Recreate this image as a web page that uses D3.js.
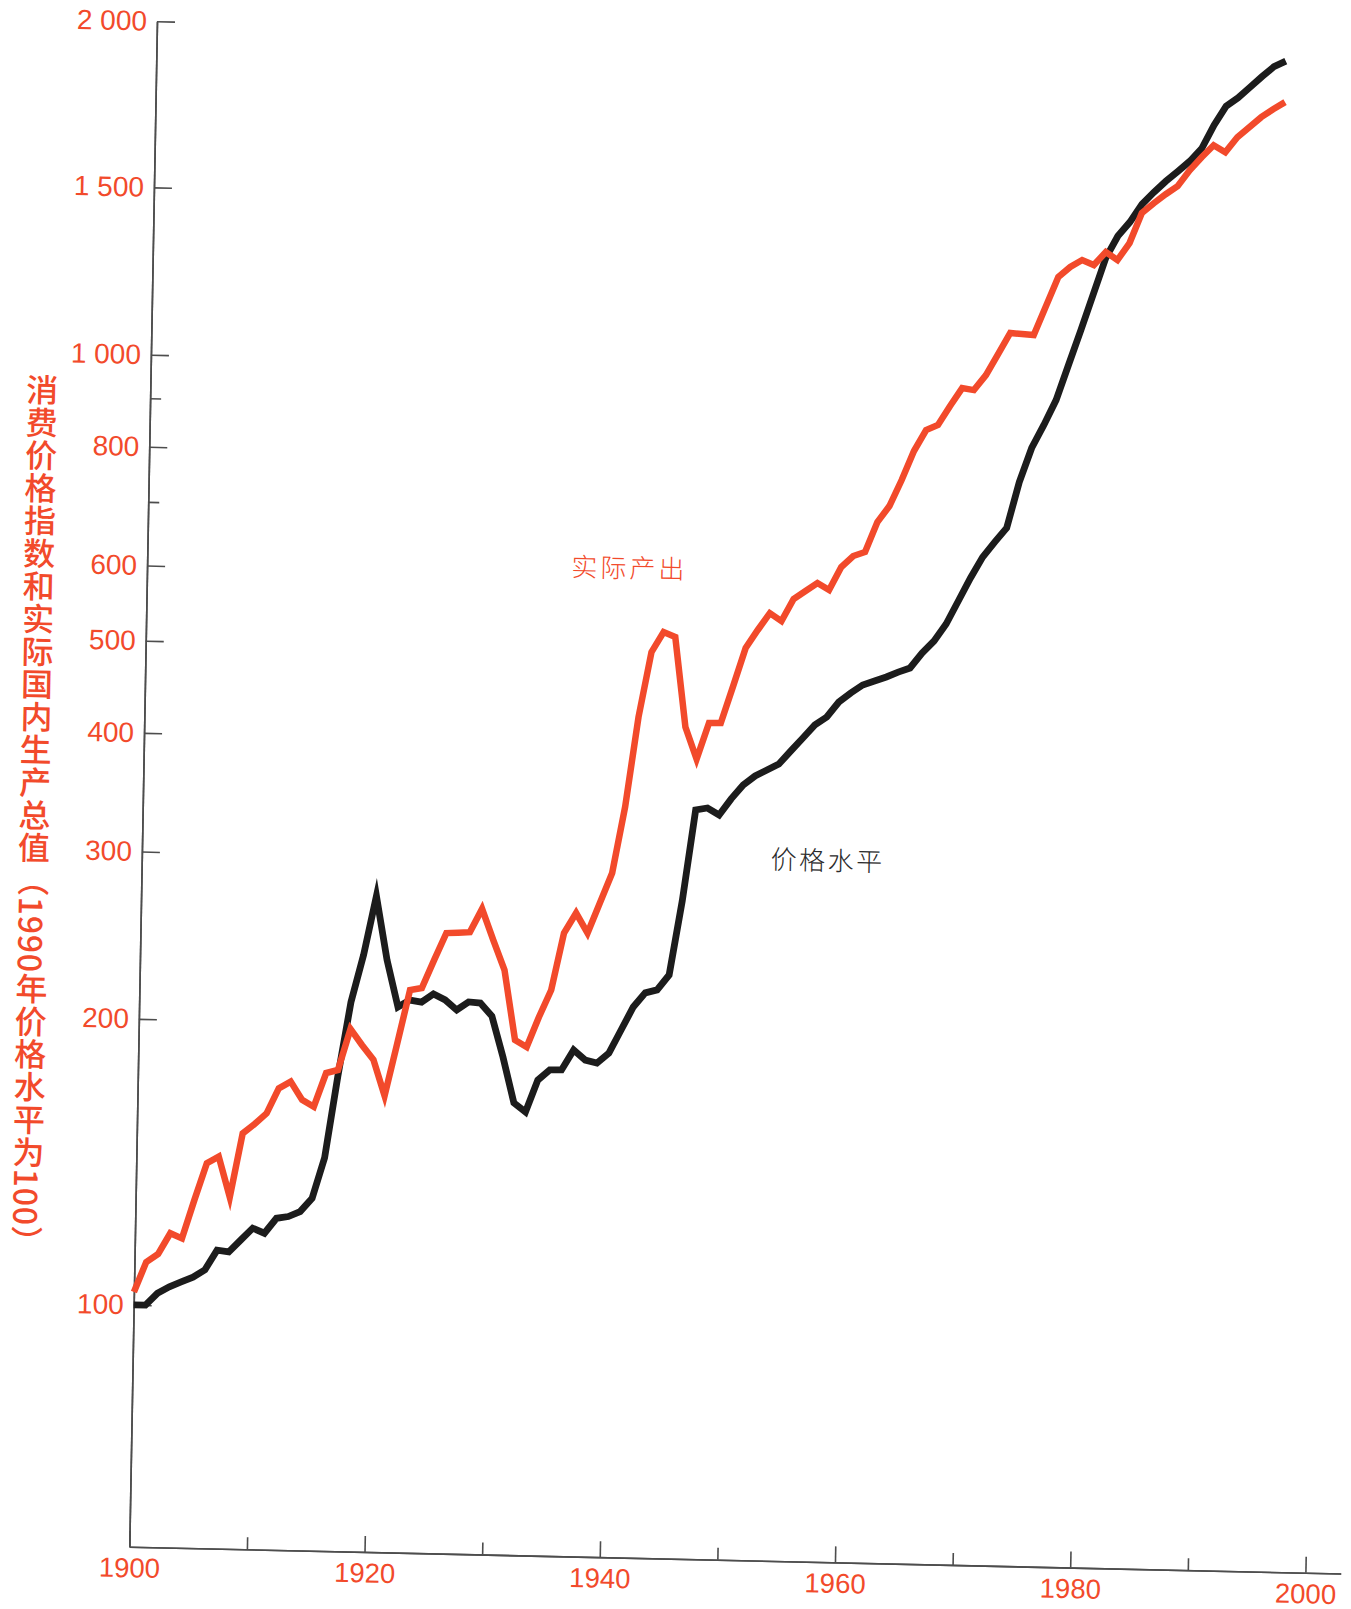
<!DOCTYPE html>
<html lang="zh">
<head>
<meta charset="UTF-8" />
<title>价格水平与实际产出</title>
<script src="https://d3js.org/d3.v7.min.js"></script>
<style>
  body { margin: 0; background: #fff; }
  svg { display: block; }
</style>
</head>
<body>
<svg width="1351" height="1609"></svg>
<script>
// 数据：1900-1996 年
const years = d3.range(1900, 1997);

// 价格水平（黑线）
const priceLevel = [
  100, 100, 103, 104.7, 106, 107.3, 109.3, 114.7, 114.3, 117.7,
  121.2, 119.8, 124.3, 124.9, 126.5, 130.7, 144.3, 176, 210.7, 236.3,
  272.8, 233.8, 208.7, 212.4, 211.5, 215.8, 212.9, 207.9, 212.1, 211.7,
  205.2, 186, 166.5, 163, 176.2, 180.7, 180.8, 189.9, 185.4, 184.2,
  188.8, 199.8, 211.4, 218.9, 220.6, 228.9, 274, 341.9, 343.7, 338.1,
  351.8, 364.1, 372.4, 378, 383.8, 396.4, 409.3, 422.7, 431.2, 447.4,
  457.6, 466.8, 471.7, 476.6, 482.6, 487.7, 506, 521.3, 543.6, 575.1,
  608.5, 640.5, 664.7, 688.2, 769.7, 836.5, 885, 940.6, 1024.7, 1115.9,
  1218.5, 1330.5, 1404.1, 1453.4, 1513.3, 1545.8, 1576.3, 1604.2, 1633.2, 1671,
  1739.8, 1798.8, 1826, 1860.7, 1895.8, 1929.5, 1949
];

// 实际产出（红线）
const realOutput = [
  103.2, 111, 113.3, 119.2, 117.8, 129.4, 141.5, 143.9, 130.5, 152.4,
  156, 160.2, 170.3, 173.2, 165.8, 163.2, 177.2, 178.6, 197.4, 190,
  183.4, 168.2, 191.2, 217.6, 218.8, 234.3, 250.3, 250.7, 251.2, 265.9,
  246.7, 229.6, 193.9, 190.8, 205.3, 219.3, 251.9, 264.6, 252.2, 271.5,
  292.1, 343, 426.9, 499.8, 525, 519.2, 417.7, 386.7, 422.3, 422.6,
  462.6, 507.4, 530.4, 552.8, 542.6, 572.8, 584.3, 596.2, 586.5, 620.6,
  637.7, 644.4, 693.2, 721.2, 768.6, 825.1, 868.6, 879.9, 921.9, 963.4,
  959.4, 995.6, 1048.3, 1104, 1101.6, 1099.9, 1180.7, 1267.4, 1299.3, 1322.3,
  1307.2, 1350, 1324.8, 1381.3, 1486.3, 1516.6, 1541.2, 1563.4, 1607.9, 1645.1,
  1680.5, 1661, 1705.5, 1736.2, 1767.5, 1792.7, 1815.6
];

// 刻度
const xMajorTicks = [1900, 1920, 1940, 1960, 1980, 2000];
const xMinorTicks = [1910, 1930, 1950, 1970, 1990];
const yTicks = [100, 200, 300, 400, 500, 600, 800, 1000, 1500, 2000];
const yTickLabels = ["100", "200", "300", "400", "500", "600", "800", "1 000", "1 500", "2 000"];
const yMinorTicks = [700, 900];

const RED = "#f24a2b";
const plotH = 1525.7;

const svg = d3.select("svg");
svg.append("rect").attr("width", 1351).attr("height", 1609).attr("fill", "#fff");

// 扫描件略有倾斜，整体套一个仿射变换
const frame = svg.append("g")
  .attr("transform", "matrix(0.99975,0.02217,-0.01815,0.99984,129.3,1546.7)");
const g = frame.append("g").attr("transform", `translate(0,${-plotH})`);

const x = d3.scaleLinear().domain([1900, 2003]).range([0, 1211.7]);
// 原图纵轴在 1500 以上刻度间距不规则，用分段对数比例尺
const y = d3.scaleLog().domain([55.66, 1500, 2000]).range([plotH, 166.2, 0]);

// x 轴
const xMinor = g.append("g")
  .attr("transform", `translate(0,${plotH})`)
  .call(d3.axisBottom(x).tickValues(xMinorTicks).tickSizeInner(-12).tickSizeOuter(0).tickFormat(""));
const xMajor = g.append("g")
  .attr("transform", `translate(0,${plotH})`)
  .call(d3.axisBottom(x).tickValues(xMajorTicks).tickSizeInner(-16).tickSizeOuter(0).tickPadding(11).tickFormat(d3.format("d")));

// y 轴
const yMinor = g.append("g")
  .call(d3.axisLeft(y).tickValues(yMinorTicks).tickSizeInner(-11).tickSizeOuter(0).tickFormat(""));
const yMajor = g.append("g")
  .call(d3.axisLeft(y).tickValues(yTicks).tickSizeInner(-18).tickSizeOuter(0).tickPadding(10)
    .tickFormat((d, i) => yTickLabels[i]));

[xMinor, xMajor, yMinor, yMajor].forEach(ax => {
  ax.selectAll("path, line").attr("stroke", "#4d4d4d").attr("stroke-width", 1.6);
  ax.selectAll("text")
    .attr("fill", RED)
    .style("font-family", "'Liberation Sans', Arial, sans-serif");
});
xMajor.selectAll("text").style("font-size", "27.5px");
yMajor.selectAll("text").style("font-size", "28px");

// 曲线
const line = d3.line()
  .x((d, i) => x(years[i]))
  .y(d => y(d));

g.append("path")
  .datum(priceLevel)
  .attr("fill", "none")
  .attr("stroke", "#1c1c1c")
  .attr("stroke-width", 6.8)
  .attr("stroke-linejoin", "miter")
  .attr("stroke-miterlimit", 6)
  .attr("d", line);

g.append("path")
  .datum(realOutput)
  .attr("fill", "none")
  .attr("stroke", RED)
  .attr("stroke-width", 6.5)
  .attr("stroke-linejoin", "miter")
  .attr("stroke-miterlimit", 6)
  .attr("d", line);

// 系列标注
g.append("text")
  .attr("x", x(1941))
  .attr("y", y(615))
  .attr("text-anchor", "middle")
  .attr("dominant-baseline", "central")
  .attr("fill", RED)
  .style("font-family", "'Noto Sans CJK SC', sans-serif")
  .style("font-weight", 300)
  .style("font-size", "26px")
  .style("letter-spacing", "3px")
  .text("实际产出");

g.append("text")
  .attr("x", x(1958.3))
  .attr("y", y(306))
  .attr("text-anchor", "middle")
  .attr("dominant-baseline", "central")
  .attr("fill", "#2b2b2b")
  .style("font-family", "'Noto Sans CJK SC', sans-serif")
  .style("font-weight", 300)
  .style("font-size", "26px")
  .style("letter-spacing", "2.5px")
  .text("价格水平");

// 纵轴标题（竖排）
g.append("text")
  .attr("x", -108)
  .attr("y", 355)
  .attr("fill", RED)
  .style("writing-mode", "vertical-rl")
  .style("text-orientation", "mixed")
  .style("font-family", "'Noto Sans CJK SC', sans-serif")
  .style("font-weight", 500)
  .style("font-size", "32px")
  .style("letter-spacing", "0.7px")
  .text("消费价格指数和实际国内生产总值（1990年价格水平为100）");
</script>
</body>
</html>
